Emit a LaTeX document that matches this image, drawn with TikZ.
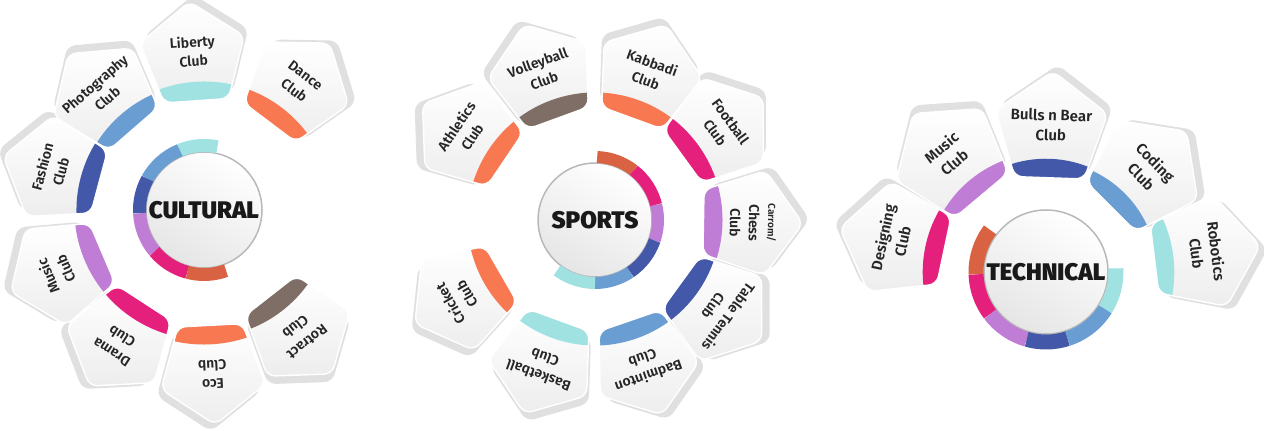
\documentclass[tikz,border=0pt]{standalone}
\usepackage{fontspec}
\setmainfont{Fira Sans}
\IfFontExistsTF{Fira Sans SemiBold}
  {\newfontfamily\clubfam{Fira Sans SemiBold}}
  {\IfFontExistsTF{Fira Sans Medium}
    {\newfontfamily\clubfam{Fira Sans Medium}}
    {\newfontfamily\clubfam{Fira Sans}}}
\IfFontExistsTF{Fira Sans Black}
  {\newfontfamily\headfam{Fira Sans Black}}
  {\newcommand\headfam{\bfseries}}
\usetikzlibrary{shapes.geometric}

\definecolor{clubcyan}{RGB}{160,226,226}
\definecolor{clublight}{RGB}{106,158,210}
\definecolor{clubdark}{RGB}{67,88,168}
\definecolor{clubpurple}{RGB}{192,125,213}
\definecolor{clubmagenta}{RGB}{228,32,124}
\definecolor{cluborange}{RGB}{248,120,82}
\definecolor{clubred}{RGB}{216,98,66}
\definecolor{clubbrown}{RGB}{126,110,102}

\begin{document}
\begin{tikzpicture}[x=1pt,y=1pt,
    tile/.style={regular polygon, regular polygon sides=5, inner sep=0pt,
      minimum size=2*\rad, rounded corners=8pt, draw=white, line width=1.4pt,
      top color=white, bottom color=gray!14},
    tileshadow/.style={regular polygon, regular polygon sides=5, inner sep=0pt,
      minimum size=2*\rad, rounded corners=8pt, fill=gray!24},
    clubtext/.style={font=\clubfam\fontsize{14}{19}\selectfont, align=center,
      text=black!85},
    hub/.style={circle, inner sep=0pt, draw=gray!55, line width=1.5pt,
      top color=white, bottom color=gray!20, shading angle=-30},
    hubtext/.style={font=\headfam\fontsize{24}{26}\selectfont, text=black!90}]

  \useasboundingbox (0,0) rectangle (1264,431);

  % ---------------- CULTURAL ----------------
  \def\rad{55}
  \coordinate (cul) at (204,221);
  \def\culclubs{1/94/154/clubcyan/{Liberty\\Club},
    2/53/154/cluborange/{Dance\\Club},
    3/131/152/clublight/{Photography\\Club},
    4/165/153/clubdark/{Fashion\\Club},
    5/203/155/clubpurple/{Music\\Club},
    6/237/155/clubmagenta/{Drama\\Club},
    7/273/160/cluborange/{Eco\\Club},
    8/308/153/clubbrown/{Rotract\\Club}}
  % shadows first, then the faces
  \foreach \i/\ang/\dist/\col/\txt in \culclubs
    \node[tileshadow, rotate=\ang-90] (cul-s\i)
      at ([shift={(\ang:\dist)}, shift={(\ang-35:8)}]cul) {};
  \foreach \i/\ang/\dist/\col/\txt in \culclubs {
    \node[tile, rotate=\ang-90,
      path picture={\fill[\col] (cul) circle ({\dist-0.809*\rad+19});}]
      (cul-p\i) at ([shift={(\ang:\dist)}]cul) {};
    \node[clubtext, rotate=\ang-90] (cul-t\i) at ([shift={(\ang:\dist+5)}]cul) {\txt};
  }
  % hub with its ring
  \node[hub, minimum size=116] (cul-hub) at (cul) {};
  \foreach \a/\b/\col in {78/112/clubcyan, 112/151/clublight, 151/183/clubdark,
      183/220/clubpurple, 220/255/clubmagenta, 255/290/clubred}
    \draw[\col, line width=13] ([shift={(\a:64.5)}]cul) arc[start angle=\a, end angle=\b, radius=64.5];
  \node[hubtext] (cul-title) at (cul) {CULTURAL};

  % ---------------- SPORTS ----------------
  \coordinate (spo) at (595,211);
  \def\spoclubs{1/146/153/cluborange/{Athletics\\Club},
    2/110/153/clubbrown/{Volleyball\\Club},
    3/70/153/cluborange/{Kabbadi\\Club},
    4/36/153/clubmagenta/{Football\\Club},
    5/-1/153/clubpurple/{\fontsize{10}{12}\selectfont Carrom/\\Chess\\Club},
    6/-36/151/clubdark/{Table Tennis\\Club},
    7/-71/151/clublight/{Badminton\\Club},
    8/-110/151/clubcyan/{Basketball\\Club},
    9/-150/153/cluborange/{Cricket\\Club}}
  \foreach \i/\ang/\dist/\col/\txt in \spoclubs
    \node[tileshadow, rotate=\ang-90] (spo-s\i)
      at ([shift={(\ang:\dist)}, shift={(\ang+35:8)}]spo) {};
  \foreach \i/\ang/\dist/\col/\txt in \spoclubs {
    \node[tile, rotate=\ang-90,
      path picture={\fill[\col] (spo) circle ({\dist-0.809*\rad+19});}]
      (spo-p\i) at ([shift={(\ang:\dist)}]spo) {};
    \node[clubtext, rotate=\ang-90] (spo-t\i) at ([shift={(\ang:\dist+5)}]spo) {\txt};
  }
  \node[hub, minimum size=114] (spo-hub) at (spo) {};
  \foreach \a/\b/\col in {88/52/clubred, 52/14/clubmagenta, 14/-19/clubpurple,
      -19/-56/clubdark, -56/-90/clublight, -90/-127/clubcyan}
    \draw[\col, line width=12] ([shift={(\a:63)}]spo) arc[start angle=\a, end angle=\b, radius=63];
  \node[hubtext] (spo-title) at (spo) {SPORTS};

  % ---------------- TECHNICAL ----------------
  \def\rad{59}
  \coordinate (tec) at (1046,159);
  \def\tecclubs{1/168/152/clubmagenta/{Designing\\Club},
    2/130/148/clubpurple/{Music\\Club},
    3/88/142/clubdark/{Bulls n Bear\\Club},
    4/45/140/clublight/{Coding\\Club},
    5/7/157/clubcyan/{Robotics\\Club}}
  \foreach \i/\ang/\dist/\col/\txt in \tecclubs
    \node[tileshadow, rotate=\ang-90] (tec-s\i)
      at ([shift={(\ang:\dist)}, shift={(\ang-35:8)}]tec) {};
  \foreach \i/\ang/\dist/\col/\txt in \tecclubs {
    \node[tile, rotate=\ang-90,
      path picture={\fill[\col] (tec) circle ({\dist-0.809*\rad+19});}]
      (tec-p\i) at ([shift={(\ang:\dist)}]tec) {};
    \node[clubtext, font=\clubfam\fontsize{15}{20}\selectfont, rotate=\ang-90]
      (tec-t\i) at ([shift={(\ang:\dist+5)}]tec) {\txt};
  }
  \node[hub, minimum size=124] (tec-hub) at (tec) {};
  \foreach \a/\b/\col in {143/182/clubred, 182/217/clubmagenta, 217/254/clubpurple,
      254/288/clubdark, 288/328/clublight, 328/363/clubcyan}
    \draw[\col, line width=15] ([shift={(\a:70)}]tec) arc[start angle=\a, end angle=\b, radius=70];
  \node[hubtext] (tec-title) at (tec) {TECHNICAL};

\end{tikzpicture}
\end{document}
